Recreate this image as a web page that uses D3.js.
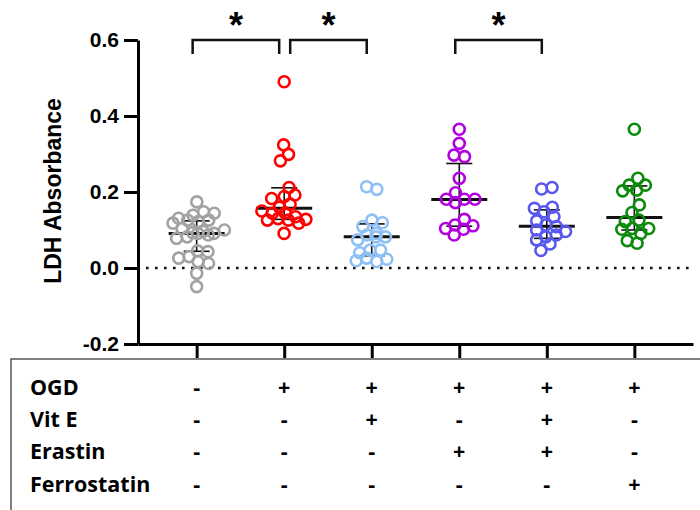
<!DOCTYPE html>
<html>
<head>
<meta charset="utf-8">
<script src="https://cdn.jsdelivr.net/npm/d3@7"></script>
<style>
  body { margin: 0; background: #fff; }
  svg { display: block; }
</style>
</head>
<body>
<svg id="chart" width="700" height="510"></svg>
<script>
// groups, in plot order
const groups = ["ctrl", "ogd", "ogdVitE", "ogdErastin", "ogdVitEErastin", "ogdFerro"];
const colors = ["#a2a2a2", "#ff0000", "#8ec0f5", "#b300e0", "#5858f0", "#0c8a0c"];

// individual LDH absorbance values per group
const ctrlVals = [0.174, 0.139, 0.148, 0.144, 0.126, 0.131, 0.122, 0.126, 0.118, 0.096, 0.087, 0.091, 0.104,
  0.091, 0.100, 0.078, 0.093, 0.082, 0.043, 0.045, 0.030, 0.026, 0.012, 0.017, -0.014, -0.049];
const ogdVals = [0.490, 0.324, 0.299, 0.282, 0.212, 0.183, 0.192, 0.188, 0.168, 0.160, 0.150, 0.145, 0.144,
  0.135, 0.130, 0.128, 0.126, 0.126, 0.118, 0.091];
const vitEVals = [0.214, 0.207, 0.126, 0.119, 0.109, 0.091, 0.087, 0.082, 0.082, 0.074, 0.047, 0.047, 0.040,
  0.026, 0.023, 0.019, 0.017];
const erastinVals = [0.365, 0.328, 0.297, 0.293, 0.236, 0.198, 0.181, 0.181, 0.181, 0.172, 0.128, 0.113,
  0.111, 0.104, 0.102, 0.087];
const vitEErastinVals = [0.212, 0.208, 0.160, 0.157, 0.148, 0.135, 0.124, 0.113, 0.109, 0.100, 0.096, 0.087,
  0.082, 0.074, 0.063, 0.046];
const ferroVals = [0.365, 0.236, 0.218, 0.218, 0.205, 0.203, 0.166, 0.146, 0.126, 0.122, 0.104, 0.104,
  0.102, 0.091, 0.072, 0.065];

// center line and error bar ends
const centers = [0.091, 0.157, 0.082, 0.180, 0.110, 0.133];
const lowers = [0.044, 0.128, 0.032, 0.110, 0.078, 0.100];
const uppers = [0.124, 0.211, 0.116, 0.275, 0.153, 0.216];

// significance comparisons (group index pairs)
const comparisons = [[0, 1], [1, 2], [3, 4]];

const yTicks = [-0.2, 0.0, 0.2, 0.4, 0.6];

// treatment table
const rowLabels = ["OGD", "Vit E", "Erastin", "Ferrostatin"];
const ogdRow = ["-", "+", "+", "+", "+", "+"];
const vitERow = ["-", "-", "+", "-", "+", "-"];
const erastinRow = ["-", "-", "-", "+", "+", "-"];
const ferroRow = ["-", "-", "-", "-", "-", "+"];

const allVals = [ctrlVals, ogdVals, vitEVals, erastinVals, vitEErastinVals, ferroVals];
const rows = [ogdRow, vitERow, erastinRow, ferroRow];

const svg = d3.select("#chart");

const x = d3.scalePoint()
  .domain(d3.range(groups.length))
  .range([138, 693])
  .padding(0.67);

const y = d3.scaleLinear()
  .domain([-0.2, 0.6])
  .range([344, 40]);

// zero reference line
svg.append("line")
  .attr("x1", 146).attr("x2", 690)
  .attr("y1", y(0)).attr("y2", y(0))
  .attr("stroke", "#111")
  .attr("stroke-width", 2.6)
  .attr("stroke-dasharray", "2.6 6.4");

// axes
const yAxis = svg.append("g")
  .attr("transform", "translate(138,0)")
  .call(d3.axisLeft(y).tickValues(yTicks).tickFormat(d => d.toFixed(1)).tickSize(14).tickSizeOuter(0).tickPadding(5));
yAxis.select(".domain").attr("stroke-width", 3);
yAxis.selectAll(".tick line").attr("stroke-width", 3);
yAxis.selectAll(".tick text")
  .attr("font-family", "Liberation Sans, Arial, sans-serif")
  .attr("font-weight", "bold")
  .attr("font-size", 21)
  .attr("fill", "#000");

const xAxis = svg.append("g")
  .attr("transform", "translate(0,344)")
  .call(d3.axisBottom(x).tickSize(14).tickSizeOuter(0).tickFormat(""));
xAxis.select(".domain").attr("stroke-width", 3);
xAxis.selectAll(".tick line").attr("stroke-width", 3);

svg.append("text")
  .attr("transform", "translate(61,191) rotate(-90)")
  .attr("text-anchor", "middle")
  .attr("font-family", "Liberation Sans, Arial, sans-serif")
  .attr("font-weight", "bold")
  .attr("font-size", 23)
  .text("LDH Absorbance");

// summary lines (drawn under the points)
const summary = svg.append("g");
groups.forEach((g, i) => {
  const cx = x(i);
  summary.append("line")
    .attr("x1", cx).attr("x2", cx)
    .attr("y1", y(uppers[i])).attr("y2", y(lowers[i]))
    .attr("stroke", "#111").attr("stroke-width", 1.6);
  [uppers[i], lowers[i]].forEach(v => {
    summary.append("line")
      .attr("x1", cx - 13).attr("x2", cx + 13)
      .attr("y1", y(v)).attr("y2", y(v))
      .attr("stroke", "#111").attr("stroke-width", 1.6);
  });
  summary.append("line")
    .attr("x1", cx - 28).attr("x2", cx + 28)
    .attr("y1", y(centers[i])).attr("y2", y(centers[i]))
    .attr("stroke", "#111").attr("stroke-width", 3);
});

// scatter points, spread sideways with a small collide simulation
groups.forEach((g, i) => {
  const nodes = allVals[i].map(v => ({ v: v, x: x(i), y: y(v) }));
  const sim = d3.forceSimulation(nodes)
    .force("x", d3.forceX(x(i)).strength(0.08))
    .force("y", d3.forceY(d => y(d.v)).strength(1))
    .force("collide", d3.forceCollide(5.3))
    .stop();
  for (let k = 0; k < 200; k++) sim.tick();

  svg.append("g")
    .selectAll("circle")
    .data(nodes)
    .join("circle")
    .attr("cx", d => d.x)
    .attr("cy", d => y(d.v))
    .attr("r", 5.5)
    .attr("fill", "none")
    .attr("stroke", colors[i])
    .attr("stroke-width", 2.6);
});

// significance brackets
comparisons.forEach(([a, b], k) => {
  const shared = k > 0 && comparisons[k - 1][1] === a;
  const x1 = x(a) + (shared ? 6 : -4);
  const x2 = x(b) - 5;
  svg.append("path")
    .attr("d", `M${x1},54 V40 H${x2} V54`)
    .attr("fill", "none")
    .attr("stroke", "#111")
    .attr("stroke-width", 2.5);
  svg.append("text")
    .attr("x", (x1 + x2) / 2)
    .attr("y", 38)
    .attr("text-anchor", "middle")
    .attr("font-family", "Liberation Sans, Arial, sans-serif")
    .attr("font-weight", "bold")
    .attr("font-size", 36)
    .text("*");
});

// treatment table
svg.append("path")
  .attr("d", "M700,359 H11 V510")
  .attr("fill", "none")
  .attr("stroke", "#555")
  .attr("stroke-width", 1.5);

const table = svg.append("g")
  .attr("font-family", "Open Sans, Noto Sans, sans-serif")
  .attr("font-weight", "bold")
  .attr("font-size", 21.5);

rowLabels.forEach((label, r) => {
  const by = 395 + r * 32.2;
  table.append("text")
    .attr("x", 30).attr("y", by)
    .text(label);
  table.selectAll(null)
    .data(rows[r])
    .join("text")
    .attr("x", (d, i) => x(i))
    .attr("y", by)
    .attr("text-anchor", "middle")
    .text(d => d);
});
</script>
</body>
</html>
